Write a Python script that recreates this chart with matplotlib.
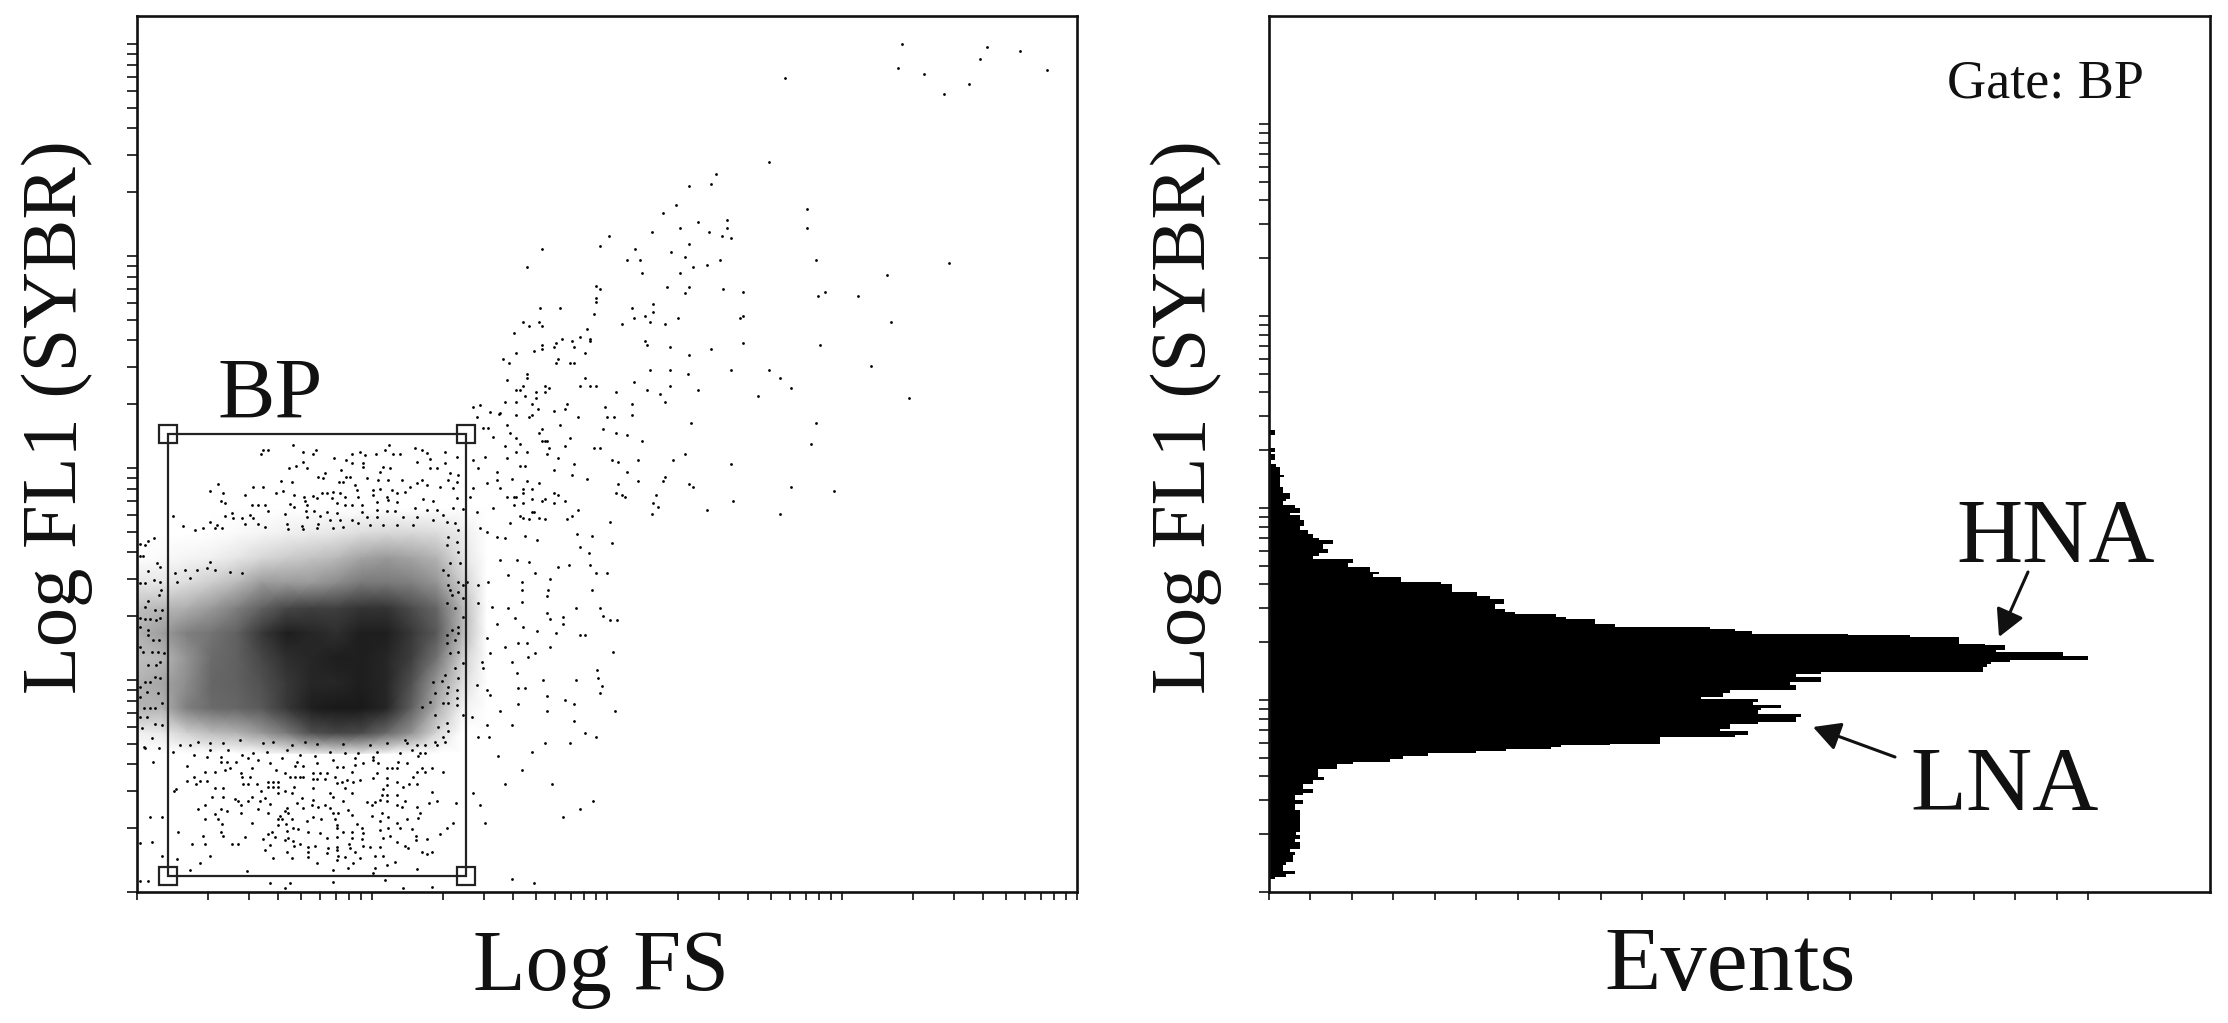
import numpy as np
import matplotlib
matplotlib.use("Agg")
import matplotlib.pyplot as plt
from matplotlib.patches import Rectangle, FancyArrowPatch

W, H = 2228, 1023
INK = "#111111"
plt.rcParams["font.family"] = ["Liberation Serif", "DejaVu Serif"]

# ---------- data (instrument channels) ----------
FS_PER_DECADE, FL1_PER_DECADE_L, FL1_PER_DECADE_R = 705.0, 636.0, 576.0

# sparse events, upper right part of the dot plot
upper_fs = [1050,1272,1359,1254,1040,1429,1109,744,1226,1161,702,564,551,494,459,801,425,593,517,471,593,801,396,547,286,581,604,494,262,111,354,448,483,333,367,576,825,1173,541,71,505,372,471,1011,250,437,494,262,582,634,848,483,831,936,250,250,401,105,157,345,401,245,379,349,465,628,634,59,101,391,1023,320,431,77,111,228,37,209,163,234,187,234,379,147,634,111,385,837,141,194,443,111,551,89,43,222,494,7,152,24,147,182,194,970,391,443,604,702,71,490,71,222,733,19,349,59,117,209,234,250,443,761,129,43,53,385,517,95,117,302,419,65,674,95,1069,12,43,431,83,175,345,274,100,170,141,0,43,83,345,77,204,280,297,500,825,19,157,111,268,25,101,302,333,43,182,111,117,123,372,53,813,12,170,129,245,262,43,71,123,483,19,152,292,360,453,308,194,604,53,65,141,333,187,431,31,228,71,360,425,101,308,494,505,761,59,83,872,59,141,302,152,320,407,19,37,43,326,83,117,111,170,610,59,141,401,37,413,204,541,83,89,396,733,53,187,59,101,77,117,175]
upper_fl1 = [72,81,93,118,143,149,161,173,192,223,426,463,493,499,556,567,580,599,605,623,623,623,635,635,648,648,654,673,678,686,686,697,710,721,721,721,721,729,734,740,740,759,759,765,797,802,802,808,808,815,815,820,827,827,833,845,851,864,864,864,876,883,888,894,894,894,888,907,907,907,907,913,913,919,919,927,938,950,956,956,962,962,962,968,969,974,975,975,981,981,981,987,987,994,999,999,1005,1018,1018,1030,1030,1030,1030,1037,1049,1049,1049,1049,1061,1061,1074,1074,1074,1081,1086,1099,1099,1099,1099,1099,1099,1105,1105,1111,1111,1111,1111,1117,1117,1117,1123,1129,1129,1135,1135,1147,1147,1147,1153,1153,1153,1160,1167,1167,1172,1178,1185,1185,1185,1191,1191,1191,1191,1210,1210,1216,1216,1228,1228,1240,1240,1240,1246,1253,1253,1264,1264,1264,1264,1271,1271,1277,1277,1283,1283,1283,1296,1296,1302,1302,1314,1314,1321,1321,1321,1327,1332,1332,1339,1339,1351,1357,1364,1370,1376,1376,1382,1382,1382,1388,1393,1393,1400,1400,1407,1407,1413,1418,1418,1418,1425,1425,1425,1431,1431,1431,1431,1437,1437,1443,1443,1443,1450,1450,1450,1456,1461,1469,1469,1475,1475,1481,1481,1487,1487,1493,1493,1497,1497,1497]

# sparse events to the right of the gate and below it
side_events = [(1060,20),(1080,15),(1110,35),(1137,42),(1105,85),(1070,50),(1090,85),(1120,110),(1095,170),(1060,180),(1075,205),(1130,215),(1130,240),(1100,250),(1060,265),(1140,265),(1050,290),(1120,325),(1070,335),(1170,370),(1080,385),(1100,395),(1130,410),(1155,415),(1215,408),(1250,420),(1470,365),(1415,408),(1370,402),(1475,430),(1380,440),(1408,458),(1190,480),(1348,495),(1315,500),(1410,495),(1228,485),(1140,480),(1245,520),(1428,520),(1462,520),(1165,525),(1105,545),(1205,545),(1290,537),(1205,570),(1285,570),(1415,570),(1075,555),(1040,545),(1280,587),(1075,610),(1115,620),(1165,625),(1205,605),(1280,640),(1290,658),(1328,650),(1330,672),(1368,625),(1440,625),(1448,648),(1470,660),(1490,660),(1185,655),(1130,672),(1210,680),(1250,692),(1380,705),(1395,705),(1308,698),(1100,714),(1195,730),(1220,730),(1155,742),(1290,742),(1245,760),(1110,760),(1085,785),(1175,785),(1225,770),(1480,755),(1090,805),(1190,820),(1430,810),(1435,835),(1270,840),(1368,840),(1070,855),(1110,885),(1195,865),(1215,865),(1445,858),(1440,878),(1100,870),(1280,888),(1335,900),(1362,912),(1195,912),(1140,932),(1280,932),(1485,932),(1055,950),(1362,962),(1100,975),(1175,975),(1395,1000),(1075,1012),(1108,1012),(1275,1030),(1350,1030),(1428,1012),(1235,1055),(1135,1068),(1207,1110),(1155,1153),(1295,1153),(1420,1202),(1060,1178),(1080,1215),(1380,1228),(1328,1252),(1095,1270),(1175,1437),(1242,1448),
 (650,1380),(700,1390),(825,1385),(240,1388),(590,1390),(640,1410),(685,1405),(800,1395),(765,1405),(380,1412),(760,1420),(890,1408),(60,1442),(85,1442),(450,1450),(510,1448),(640,1445),(795,1440),(850,1465),(935,1460),(495,1465),(210,1410),(100,1085),(75,1045),(60,1330),(95,1325),(125,1250),(90,1250),(125,1368)]

# events above the cloud, inside the gate
gate_top_events = [(295,60),(280,60),(272,72),(368,46),(400,65),(438,60),(430,72),(491,85),(527,90),(545,72),(570,65),(585,75),(618,72),(545,100),(400,97),(378,108),(358,115),(412,115),(580,100),(580,112),(640,110),(630,125),(670,72),(690,72),(657,45),(645,60),(735,55),(755,60),(770,68),(740,95),(780,88),(825,100),(860,80),(825,65),(465,128),(445,140),(460,145),(512,120),(527,140),(540,140),(333,152),(365,155),(145,163),(508,155),(520,155),(555,165),(590,145),(625,150),(660,115),(655,150),(695,150),(720,170),(755,150),(780,115),(800,115),(840,128),(865,135),(835,150),(860,155),(120,183),(158,188),(250,170),(278,170),(318,188),(340,183),(226,195),(372,195),(455,188),(470,188),(490,185),(510,188),(560,180),(610,180),(630,178),(665,180),(705,185),(740,160),(770,165),(810,170),(850,175),(403,200),(430,197),(440,205),(485,205),(525,200),(565,200),(610,195),(650,200),(680,190),(152,213),(165,220),(360,222),(372,232),(245,226),(265,226),(285,226),(405,213),(500,220),(525,225),(545,225),(575,225),(620,215),(655,210),(680,215),(760,208),(790,212),(860,205),(410,225),(293,243),(345,252),(408,243),(432,243),(470,245),(500,250),(575,245),(620,240),(650,243),(675,243),(735,235),(770,240),(800,240),(850,235),(880,238),(8,257),(165,257),(185,250),(240,255),(412,260),(450,257),(215,265),(190,265),(250,265),(120,275),(480,270),(510,270),(545,270),(590,260),(620,260),(700,260),(740,260),(820,255),(830,275),(140,285),(38,287),(225,282),(265,283),(350,283),(285,290),(395,287),(445,282),(490,295),(520,290),(565,280),(600,285),(640,285),(680,285),(730,285),(790,270),(135,295),(155,295),(75,300),(100,295),(355,297),(400,297),(440,295)]

# events below the cloud, inside the gate
gate_low_events = [(30,45),(60,45),(85,35),(120,40),(160,38),(210,30),(280,40),(310,35),(365,45),(405,35),(440,42),(520,42),(600,45),(650,38),(710,38),(740,45),(800,45),(825,35),(8,65),(72,75),(120,60),(175,60),(215,75),(250,70),(290,65),(350,60),(390,75),(435,78),(480,65),(525,70),(565,70),(610,80),(620,65),(690,70),(765,70),(745,78),(112,82),(152,80),(235,85),(265,90),(335,85),(380,95),(440,100),(490,90),(555,85),(610,90),(685,95),(710,100),(52,107),(152,95),(172,97),(198,95),(300,100),(375,107),(400,108),(500,110),(520,110),(555,105),(580,100),(625,100),(650,115),(680,115),(755,115),(785,115),(105,127),(135,125),(165,120),(180,115),(212,128),(245,113),(318,120),(545,125),(620,130),(665,113),(740,125),(765,127),(820,127),(72,140),(215,140),(240,140),(345,130),(360,140),(375,140),(390,140),(400,140),(430,130),(450,130),(430,148),(470,130),(495,140),(570,150),(610,145),(650,143),(730,140),(52,152),(90,152),(112,152),(295,155),(310,155),(325,155),(440,148),(465,148),(530,150),(550,155),(78,163),(220,163),(235,163),(260,163),(500,160),(515,155),(650,165),(680,157),(718,163),(740,163),(18,178),(12,183),(135,175),(160,175),(272,183),(293,172),(308,172),(325,172),(345,183),(372,170),(430,175),(525,175),(640,178),(700,170),(325,188),(365,190),(480,190),(545,190),(125,200),(160,200),(285,205),(490,200),(635,195),(650,195),(680,195),(785,187),(195,207),(205,212),(235,212),(245,200),(270,212),(395,203),(430,210),(520,213),(592,215),(615,215),(630,210),(650,212),(705,212),(800,212),(778,218),(858,218),(105,226),(212,226),(300,222),(380,218),(350,235),(425,226),(445,230),(465,226),(480,235),(680,226),(695,232),(740,232),(85,238),(152,238),(172,243),(265,238),(345,243),(400,235),(490,248),(505,250),(535,240),(605,226),(635,250),(135,252),(212,250),(295,250),(330,257),(355,250),(430,260),(545,255),(655,262),(605,257),(750,250),(710,268),(145,268),(105,268),(245,280),(325,268),(335,268),(365,268),(412,273),(452,268),(495,268),(630,273),(745,265),(155,282),(325,285),(348,282),(500,285),(560,282),(680,280),(850,280),(830,293),(370,293),(385,296),(415,305),(500,295),(575,295),(630,300),(655,295),(690,293),(725,298),(25,305),(152,305),(305,305),(350,302),(450,308),(520,305),(545,305),(578,310),(810,312),(100,317),(160,317),(295,312),(500,320),(660,318),(640,325),(738,317),(225,322),(280,328),(315,322),(355,325),(370,333),(472,325),(545,325),(575,327),(738,330),(770,328),(65,342),(105,342),(185,342),(205,342),(300,345),(345,330),(390,342),(415,350),(435,348),(500,352),(538,342),(580,348),(630,352),(680,335),(705,348),(715,355),(285,360),(372,348),(475,355),(500,360),(540,355),(555,365),(600,352),(350,365),(415,365),(755,365),(785,365),(470,368),(120,378),(310,383),(365,383),(415,380),(505,378),(525,380),(570,385),(615,378),(640,378),(770,372),(20,387)]

# events along the gate's left edge
gate_left_events = [(57,53),(38,62),(15,72),(30,75),(15,108),(25,108),(65,128),(75,140),(38,152),(15,188),(30,188),(58,180),(75,185),(78,210),(72,225),(38,243),(30,262),(60,270),(80,270),(15,295),(30,297),(45,297),(62,300),(75,295),(15,320),(38,330),(40,345),(55,360),(72,360),(15,380),(25,395),(50,395),(70,395),(88,400),(40,435),(62,435),(75,425),(30,487),(45,485),(60,470),(75,475),(15,500),(35,515),(70,520),(15,530),(28,565),(45,565),(60,565),(80,550),(35,590),(60,612),(80,615),(20,625),(50,655),(28,682),(72,685),(15,590),(185,150),(150,150),(120,160),(215,145),(240,150),(285,155),(320,160),(125,185),(165,175),(225,125)]

# events along the gate's right edge
gate_right_events = [(165,10),(175,30),(145,50),(170,65),(140,75),(175,95),(150,130),(180,130),(130,150),(145,165),(175,185),(145,195),(190,195),(150,210),(175,215),(190,235),(155,225),(140,250),(165,265),(190,290),(175,320),(155,330),(140,345),(175,340),(165,360),(140,370),(175,395),(150,400),(190,430),(135,465),(165,445),(175,475),(100,485),(125,483),(145,500),(105,520),(140,520),(170,510),(90,545),(130,548),(145,548),(170,535),(65,560),(105,585),(190,585),(170,555),(140,610),(145,632),(115,620),(130,650),(105,665),(60,700),(75,675),(35,690),(15,660)]

# density of the dense cloud (darkness of the dot plot, 0-1)
cloud_fs = [50,125,200,275,350,425,500,575,650,725,800,875,950,1025,1100]
cloud_fl1 = [325,400,475,550,625,700,775,850,925,1000,1060]
cloud_density = [
 [0,0,0,0,0,0,0,0,0,0,0,0,0,0,0],
 [0,0,0,0,.02,.04,.06,.08,.10,.14,.16,.16,.14,.08,0],
 [0,.02,.04,.06,.10,.16,.20,.24,.28,.36,.40,.36,.30,.12,0],
 [.10,.10,.14,.20,.28,.40,.40,.40,.46,.53,.53,.50,.42,.20,0],
 [.25,.28,.32,.40,.50,.62,.72,.75,.75,.80,.80,.70,.60,.30,0],
 [.30,.38,.50,.55,.62,.78,.88,.85,.82,.88,.88,.78,.65,.30,0],
 [.25,.28,.42,.58,.62,.72,.82,.85,.88,.88,.85,.75,.55,.20,0],
 [.30,.35,.45,.60,.62,.68,.78,.85,.85,.88,.85,.68,.40,.14,0],
 [.30,.30,.50,.58,.60,.65,.78,.88,.90,.90,.85,.62,.32,.06,0],
 [.06,.08,.18,.26,.30,.40,.52,.68,.72,.70,.58,.42,.16,0,0],
 [0,0,0,0,0,.02,.06,.10,.12,.10,.05,0,0,0,0],
]

# gate BP
gate_fs = [92, 986]
gate_fl1 = [49, 1373]

# FL1 histogram
hist_edges = [38,45,55,63,80,90,110,120,130,150,160,170,180,245,265,275,290,297,310,325,335,345,370,383,390,400,409,417,423,429,435,440,445,465,470,483,490,503,510,525,535,545,553,560,570,580,585,597,605,620,630,645,655,660,675,685,690,697,708,720,727,740,743,765,770,775,783,790,795,803,818,825,833,840,850,863,878,888,900,923,930,945,953,960,975,988,1000,1007,1017,1030,1043,1055,1062,1073,1087,1097,1117,1130,1138,1153,1160,1173,1180,1197,1215,1245,1250,1275,1285,1295,1315,1320,1333,1370,1385,1390]
hist_counts = [17,50,77,42,50,72,77,64,92,77,92,82,92,77,102,77,102,132,102,132,164,147,204,252,362,402,477,622,712,847,877,1022,1174,1397,1437,1352,1382,1467,1582,1597,1467,1477,1537,1452,1467,1297,1362,1382,1582,1562,1657,1582,1657,2142,2154,2167,2222,2457,2382,2182,2207,2147,2070,1922,1737,1450,1397,1322,1037,977,890,862,737,707,677,704,662,624,549,517,397,312,330,304,238,252,132,150,178,162,192,150,132,117,94,104,92,64,92,77,42,50,64,42,32,44,32,20,6,18,6,18,4,18,4]
events_ticks = [0,124,249,373,498,622,746,871,995,1120,1244,1368,1493,1617,1742,1866,1990,2115,2239,2364,2457]
EVENTS_MAX = 2823

# ---------- layout ----------
fig = plt.figure(figsize=(W / 100, H / 100), dpi=100, facecolor="white")


def axes_px(x0, x1, y0, y1):
    return fig.add_axes([x0 / W, 1 - y1 / H, (x1 - x0) / W, (y1 - y0) / H])


def txt(px, py, s, size, **kw):
    kw.setdefault("ha", "center")
    kw.setdefault("va", "baseline")
    fig.text(px / W, 1 - py / H, s, fontsize=size, color=INK, **kw)


def log_ticks(n):
    major = [10.0 ** k for k in range(n + 1)]
    minor = [m * 10.0 ** k for k in range(n) for m in range(2, 10)]
    return major, minor


def fs_val(c):
    return 10 ** (np.asarray(c, float) / FS_PER_DECADE)


def fl1_val(c, per=FL1_PER_DECADE_L):
    return 10 ** (np.asarray(c, float) / per)


def style(ax):
    for side in ax.spines:
        ax.spines[side].set_linewidth(1.9)
        ax.spines[side].set_color(INK)
    ax.tick_params(which="both", labelbottom=False, labelleft=False, color=INK, width=1.2,
                   length=6, direction="out", top=False, right=False)
    ax.tick_params(axis="y", which="both", length=7)


def dots(ax, events, fs_shift, fl1_shift):
    e = np.array(events, float)
    ax.scatter(fs_val(e[:, 0] + fs_shift), fl1_val(fl1_shift - e[:, 1]),
               s=4.0, c="black", linewidths=0, zorder=2)


# ---------- left: dot plot ----------
ax = axes_px(137, 1077, 16, 892)
ax.set_xscale("log")
ax.set_yscale("log")
ax.set_xlim(1, 1e4)
ax.set_ylim(1, 10 ** ((892 - 16) / 212.0))

mx, my = np.meshgrid(fs_val(np.array(cloud_fs) - 51), fl1_val(1476 - np.array(cloud_fl1)))
ax.pcolormesh(mx, my, np.array(cloud_density), cmap="gray_r", vmin=0, vmax=1,
              shading="gouraud", rasterized=True, zorder=1)

dots(ax, list(zip(np.array(upper_fs) * 1.148, upper_fl1)), 1089, 2616)
dots(ax, side_events, -51, 1476)
dots(ax, gate_top_events, 99, 1386)
dots(ax, gate_low_events, 99, 486)
dots(ax, gate_left_events, -6, 1116)
dots(ax, gate_right_events, 789, 1116)

gx, gy = fs_val(gate_fs), fl1_val(gate_fl1)
ax.add_patch(Rectangle((gx[0], gy[0]), gx[1] - gx[0], gy[1] - gy[0], fill=False,
                       ec="#222222", lw=1.6, zorder=3))
ax.plot([gx[0], gx[1], gx[0], gx[1]], [gy[0], gy[0], gy[1], gy[1]], ls="none", marker="s",
        ms=12.5, mfc="none", mec="#222222", mew=1.6, zorder=3)

maj, mnr = log_ticks(4)
ax.set_xticks(maj)
ax.set_xticks(mnr, minor=True)
ax.set_yticks(maj)
ax.set_yticks(mnr, minor=True)
style(ax)

# ---------- right: histogram ----------
ax2 = axes_px(1269, 2210, 16, 892)
ax2.set_yscale("log")
ax2.set_xlim(0, EVENTS_MAX)
ax2.set_ylim(1, 10 ** ((892 - 16) / 192.0))
ax2.stairs(hist_counts, fl1_val(hist_edges, FL1_PER_DECADE_R), orientation="horizontal",
           fill=True, color="black", baseline=0, zorder=2)
ax2.set_xticks(events_ticks)
ax2.set_yticks(maj)
ax2.set_yticks(mnr, minor=True)
style(ax2)

# ---------- text ----------
for px in (57, 1186):
    fig.text(px / W, 1 - 417 / H, "Log FL1 (SYBR)", fontsize=56.5, color=INK, rotation=90,
             ha="center", va="center")
txt(601, 990, "Log FS", 62)
txt(1730, 990, "Events", 66.5)
txt(270, 418, "BP", 62)
txt(2056, 562, "HNA", 66)
txt(2005, 810, "LNA", 66)
txt(2045, 97, "Gate: BP", 39)


def arrow(p0, p1):
    fig.add_artist(FancyArrowPatch(
        (p0[0] / W, 1 - p0[1] / H), (p1[0] / W, 1 - p1[1] / H),
        transform=fig.transFigure, arrowstyle="-|>,head_length=0.75,head_width=0.4",
        mutation_scale=22, lw=2.2, color=INK, shrinkA=0, shrinkB=0))


arrow((2028, 572), (1999, 637))
arrow((1895, 757), (1813, 727))

fig.savefig("out.png", dpi=100, facecolor="white")
